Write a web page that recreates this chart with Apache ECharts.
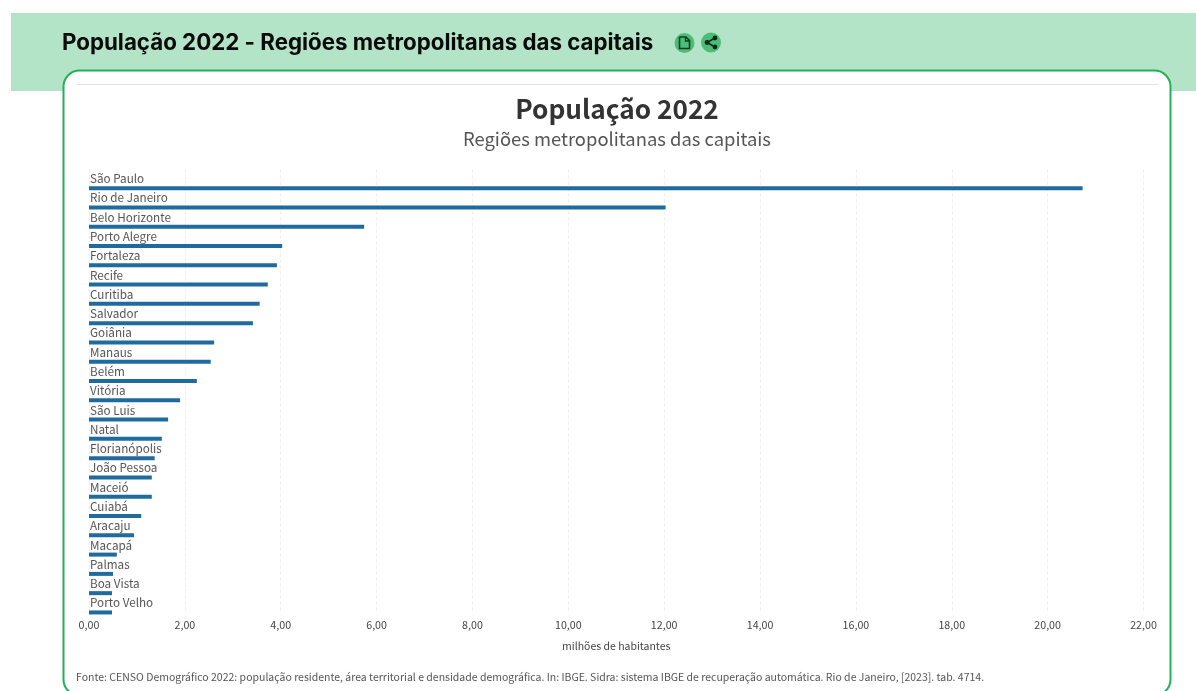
<!DOCTYPE html>
<html><head><meta charset="utf-8">
<style>html,body{margin:0;padding:0;background:#fff}#c{width:1196px;height:691px}</style>
<script src="https://cdn.jsdelivr.net/npm/echarts@6/dist/echarts.min.js"></script>
</head><body><div id="c"></div>
<script>
const categories = ["São Paulo","Rio de Janeiro","Belo Horizonte","Porto Alegre","Fortaleza","Recife","Curitiba","Salvador","Goiânia","Manaus","Belém","Vitória","São Luis","Natal","Florianópolis","João Pessoa","Maceió","Cuiabá","Aracaju","Macapá","Palmas","Boa Vista","Porto Velho"];
const population = [20.73,12.03,5.74,4.03,3.92,3.73,3.56,3.42,2.61,2.54,2.25,1.90,1.65,1.52,1.37,1.31,1.31,1.09,0.94,0.58,0.50,0.48,0.48];
const headerTitle = "População 2022 - Regiões metropolitanas das capitais";
const chartTitle = "População 2022";
const chartSubtitle = "Regiões metropolitanas das capitais";
const axisName = "milhões de habitantes";
const source = "Fonte: CENSO Demográfico 2022: população residente, área territorial e densidade demográfica. In: IBGE. Sidra: sistema IBGE de recuperação automática. Rio de Janeiro, [2023]. tab. 4714.";
const FONT = '"Noto Sans CJK SC","Noto Sans",sans-serif';
const chart = echarts.init(document.getElementById('c'), null, {renderer:'canvas'});
chart.setOption({
  animation:false,
  backgroundColor:'#fff',
  textStyle:{fontFamily:FONT},
  title:[
    {text:headerTitle,left:62,top:32,padding:0,textStyle:{fontFamily:'Inter,"Open Sans",sans-serif',fontSize:22.3,fontWeight:700,color:'#0b0b0b'}},
    {text:chartTitle,left:617,top:96,padding:0,textAlign:'center',textStyle:{fontFamily:FONT,fontSize:26.2,fontWeight:700,color:'#333'}},
    {text:chartSubtitle,left:617,top:130,padding:0,textAlign:'center',textStyle:{fontFamily:FONT,fontSize:18.4,fontWeight:400,color:'#555'}},
    {text:source,left:76,top:672,padding:0,textStyle:{fontFamily:FONT,fontSize:10.5,fontWeight:400,color:'#555'}}
  ],
  graphic:[
    {type:'rect',z:-10,silent:true,shape:{x:11,y:13,width:1185,height:78},style:{fill:'#b4e4c7'}},
    {type:'rect',z:-9,silent:true,shape:{x:63.5,y:70.5,width:1107,height:625,r:16},style:{fill:'#fff',stroke:'#22b05a',lineWidth:2}},
    {type:'rect',z:-8,silent:true,shape:{x:77,y:84,width:1081,height:1},style:{fill:'#e4e4e4'}},
    {type:'circle',z:-8,silent:true,shape:{cx:684.5,cy:43,r:10},style:{fill:'#4cbd78'}},
    {type:'circle',z:-8,silent:true,shape:{cx:711,cy:42.5,r:10},style:{fill:'#4cbd78'}},
    {type:'polyline',z:-7,silent:true,shape:{points:[[679.5,37],[686,37],[689.5,40.5],[689.5,48.5],[679.5,48.5],[679.5,37]]},style:{fill:'none',stroke:'#0d3b1f',lineWidth:1.6}},
    {type:'polyline',z:-7,silent:true,shape:{points:[[685.5,37],[685.5,41],[689.5,41]]},style:{fill:'none',stroke:'#0d3b1f',lineWidth:1.3}},
    {type:'polyline',z:-7,silent:true,shape:{points:[[715,38],[707,42.5],[715,47]]},style:{fill:'none',stroke:'#0d2a18',lineWidth:1.5}},
    {type:'circle',z:-7,silent:true,shape:{cx:715,cy:38,r:2.4},style:{fill:'#0d2a18'}},
    {type:'circle',z:-7,silent:true,shape:{cx:707,cy:42.5,r:2.4},style:{fill:'#0d2a18'}},
    {type:'circle',z:-7,silent:true,shape:{cx:715,cy:47,r:2.4},style:{fill:'#0d2a18'}}
  ],
  grid:{left:89,top:169,width:1054.5,height:443.6,containLabel:false},
  xAxis:{
    type:'value',min:0,max:22,interval:2,
    axisLine:{show:false},axisTick:{show:false},
    axisLabel:{margin:7,fontSize:10.7,color:'#444',fontFamily:FONT,
      formatter:v=>v.toFixed(2).replace('.',',')},
    splitLine:{show:true,lineStyle:{type:'dashed',color:'#efefef',width:1}},
    name:axisName,nameLocation:'middle',nameGap:28,
    nameTextStyle:{fontSize:10.5,color:'#444',fontFamily:FONT}
  },
  yAxis:{
    type:'category',inverse:true,data:categories,
    axisLine:{show:false},axisTick:{show:false},splitLine:{show:false},
    axisLabel:{inside:true,align:'left',margin:1,interval:0,fontSize:11.7,color:'#555',fontFamily:FONT}
  },
  series:[
    {type:'bar',name:'spacer',silent:true,barWidth:19,barGap:'0%',data:categories.map(()=>null),itemStyle:{color:'transparent'}},
    {type:'bar',name:'População',clip:false,barWidth:4,barGap:'0%',data:population,itemStyle:{color:'#1f6a9e'}}
  ]
});
</script></body></html>
